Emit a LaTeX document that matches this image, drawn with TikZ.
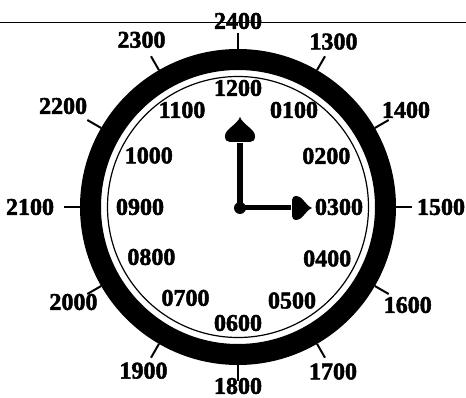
\documentclass[tikz,border=0pt]{standalone}
\usepackage{fontspec}
\setmainfont{Liberation Serif}[BoldFeatures={FakeBold=2}]
\usepackage{tikz}
\usetikzlibrary{positioning}

\tikzset{
  handhead/.pic={
    \fill (0,0) .. controls (-8,3) and (-12,15) .. (-19,15)
      .. controls (-23,15) and (-25,13) .. (-25,10) -- (-25,-10)
      .. controls (-25,-13) and (-23,-15) .. (-19,-15)
      .. controls (-12,-15) and (-8,-3) .. (0,0) -- cycle;
  }
}

\begin{document}
\begin{tikzpicture}[
  x=1pt, y=1pt,
  hourlabel/.style={inner sep=0pt, font=\bfseries\fontsize{24}{26}\selectfont},
  ring/.style={draw=black, line width=21pt},
  rim/.style={draw=black, line width=1.2pt},
  tick/.style={draw=black, line width=2pt},
  handline/.style={draw=black, line width=6pt}
]
\useasboundingbox (-238,-191) rectangle (228,207);

% top rule
\draw[rim] (-238,184.3) -- (228,184.3);

% dial
\coordinate (centre) at (0,0);
\draw[ring] (centre) circle (147.5);
\draw[rim]  (centre) circle (130.5);

% hour h: inner label, outer label, their radii
\foreach \h/\inner/\outer/\ri/\ro in {0/1200/2400/119/186, 1/0100/1300/112/191, 2/0200/1400/102/194,
                                      3/0300/1500/101/203, 4/0400/1600/103/196, 5/0500/1700/108/190,
                                      6/0600/1800/116/179, 7/0700/1900/105/189, 8/0800/2000/100/190,
                                      9/0900/2100/98/208, 10/1000/2200/103/202, 11/1100/2300/112/193}{
  \pgfmathsetmacro{\a}{90-30*\h}
  \coordinate (tick-\h) at (\a:158);
  \coordinate (tickend-\h) at (\a:174);
  \draw[tick] (tick-\h) -- (tickend-\h);
  \node[hourlabel] (out-\h) at (\a:\ro) {\outer};
  \node[hourlabel] (in-\h)  at (\a:\ri) {\inner};
}

% hands
\coordinate (pivot) at (2,-1);
\coordinate (hourbase) at (2,64);
\coordinate (hourtip) at (2,90);
\coordinate (minbase) at (53,-1);
\coordinate (mintip) at (74,-1);
\draw[handline] (pivot) -- (hourbase);
\draw[handline, line width=5pt] (pivot) -- (minbase);
\pic[rotate=90] at (hourtip) {handhead};
\pic[scale=0.8] at (mintip) {handhead};
\fill (pivot) circle (6);

\end{tikzpicture}
\end{document}
